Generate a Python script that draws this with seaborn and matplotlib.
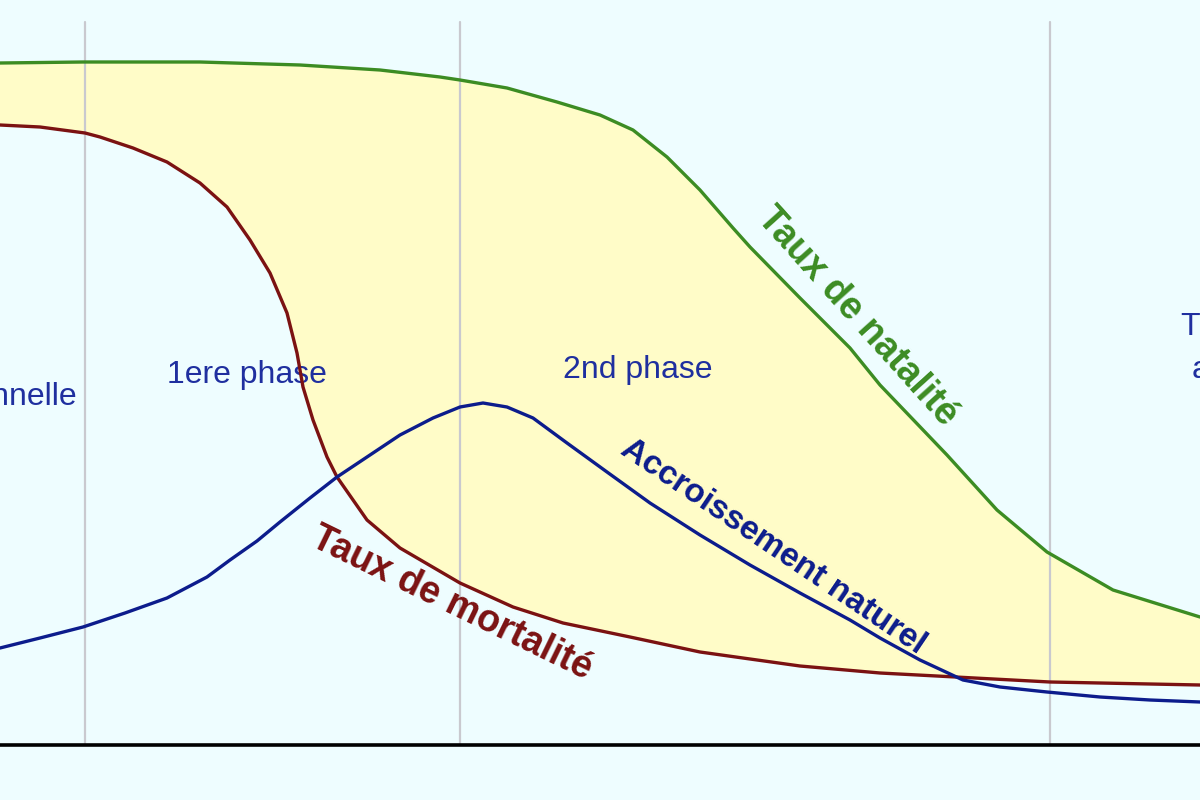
import numpy as np
import pandas as pd
import matplotlib
matplotlib.use("Agg")
import matplotlib.pyplot as plt
import seaborn as sns

# =========================
# Data (time axis, rates)
# =========================
temps_nat = [0, 83, 200, 300, 380, 440, 460, 507, 557, 600, 633, 667, 700, 733,
             750, 800, 850, 880, 947, 997, 1047, 1113, 1200]
natalite = [682, 683, 683, 680, 675, 668, 665, 657, 643, 630, 615, 588, 555, 517,
            498, 447, 397, 360, 290, 235, 193, 155, 128]

temps_mort = [0, 40, 85, 100, 133, 167, 200, 227, 250, 270, 287, 297, 303, 313,
              327, 337, 367, 400, 460, 513, 563, 630, 700, 800, 880, 1050, 1200]
mortalite = [620, 618, 612, 608, 597, 583, 562, 538, 505, 472, 432, 392, 358, 325,
             288, 268, 225, 197, 162, 138, 122, 108, 93, 79, 72, 63, 60]

temps_acc = [0, 40, 83, 125, 167, 207, 230, 257, 280, 310, 337, 370, 400, 433,
             460, 483, 507, 533, 567, 607, 650, 700, 750, 800, 850, 880, 920, 963,
             1000, 1047, 1100, 1150, 1200]
accroissement = [97, 107, 118, 132, 147, 168, 185, 204, 223, 247, 268, 290, 310,
                 327, 338, 342, 338, 327, 302, 273, 242, 210, 180, 152, 125, 107,
                 85, 65, 58, 53, 48, 45, 43]

limites_phases = [85, 460, 1050]

nat = pd.DataFrame({"temps": temps_nat, "taux": natalite})
mort = pd.DataFrame({"temps": temps_mort, "taux": mortalite})
acc = pd.DataFrame({"temps": temps_acc, "taux": accroissement})

# =========================
# Style
# =========================
sns.set_theme(style="white")
plt.rcParams["font.family"] = ["Liberation Sans", "DejaVu Sans"]

bg = "#eefdff"
fig = plt.figure(figsize=(12, 8), dpi=100, facecolor=bg)
ax = fig.add_axes([0, 0, 1, 1])
ax.set_facecolor(bg)

# =========================
# Plot
# =========================
# yellow area between natality and mortality
poly_x = list(nat["temps"]) + list(mort["temps"][::-1])
poly_y = list(nat["taux"]) + list(mort["taux"][::-1])
ax.fill(poly_x, poly_y, color="#fffcc8", lw=0, zorder=1)

for xv in limites_phases:
    ax.plot([xv, xv], [0, 723], color="#c9c9cf", lw=1.6, zorder=2)

sns.lineplot(data=nat, x="temps", y="taux", ax=ax, color="#3c8c23", lw=2.4, zorder=4)
sns.lineplot(data=mort, x="temps", y="taux", ax=ax, color="#7b1212", lw=2.4, zorder=4)
sns.lineplot(data=acc, x="temps", y="taux", ax=ax, color="#0c1c8c", lw=2.4, zorder=5)

ax.axhline(0, color="black", lw=2.6, zorder=6)

# Phase labels
txt_blue = "#1f2f9f"
ax.text(77, 348, "traditionnelle", ha="right", va="center", fontsize=23, color=txt_blue)
ax.text(247, 370, "1ere phase", ha="center", va="center", fontsize=23, color=txt_blue)
ax.text(638, 375, "2nd phase", ha="center", va="center", fontsize=23, color=txt_blue)
ax.text(1180, 418, "Transition", ha="left", va="center", fontsize=23, color=txt_blue)
ax.text(1192, 375, "achevée", ha="left", va="center", fontsize=23, color=txt_blue)

# Curve labels
ax.text(857, 428, "Taux de natalité", rotation=-48, rotation_mode="anchor",
        ha="center", va="center", fontsize=27, fontweight="bold", color="#3c8c23")
ax.text(452, 142, "Taux de mortalité", rotation=-26, rotation_mode="anchor",
        ha="center", va="center", fontsize=27, fontweight="bold", color="#7b1212")
ax.text(773, 198, "Accroissement naturel", rotation=-34, rotation_mode="anchor",
        ha="center", va="center", fontsize=24, fontweight="bold", color="#0c1c8c")

ax.set_xlim(0, 1200)
ax.set_ylim(-55, 745)
ax.set_xlabel("")
ax.set_ylabel("")
ax.set_xticks([])
ax.set_yticks([])
for s in ax.spines.values():
    s.set_visible(False)

plt.savefig("out.png", dpi=100, facecolor=bg)
